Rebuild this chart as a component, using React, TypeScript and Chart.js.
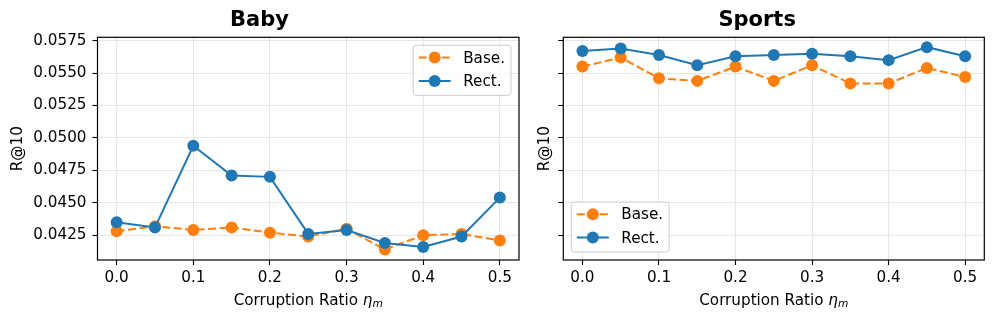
import React, { useEffect, useRef } from "react";
import { Chart, registerables } from "chart.js";

Chart.register(...registerables);

// ---- data ----
const ratios = [0.0, 0.05, 0.1, 0.15, 0.2, 0.25, 0.3, 0.35, 0.4, 0.45, 0.5];
const babyBase = [0.0428, 0.0432, 0.0429, 0.0431, 0.0427, 0.0424, 0.0430, 0.0414, 0.0425, 0.0426, 0.0421];
const babyRect = [0.0435, 0.0431, 0.0494, 0.0471, 0.0470, 0.0426, 0.0429, 0.0419, 0.0416, 0.0424, 0.0454];
const sportsBase = [0.0555, 0.0562, 0.0546, 0.0544, 0.0555, 0.0544, 0.0556, 0.0542, 0.0542, 0.0554, 0.0547];
const sportsRect = [0.0567, 0.0569, 0.0564, 0.0556, 0.0563, 0.0564, 0.0565, 0.0563, 0.0560, 0.0570, 0.0563];
const xTickValues = [0.0, 0.1, 0.2, 0.3, 0.4, 0.5];
const yTickValues = [0.0425, 0.045, 0.0475, 0.05, 0.0525, 0.055, 0.0575];
const seriesLabels = ["Base.", "Rect."];
const panelTitles = ["Baby", "Sports"];
const xAxisTitleParts = ["Corruption Ratio ", "η", "m"];
const yAxisTitle = "R@10";

const ORANGE = "#ff7f0e";
const BLUE = "#1f77b4";
const FONT = "'DejaVu Sans', 'Liberation Sans', sans-serif";
const FS = 15.2;

const framePlugin = {
  id: "frameBox",
  afterDraw(chart: any) {
    const { ctx, chartArea: a } = chart;
    ctx.save();
    ctx.strokeStyle = "#000";
    ctx.lineWidth = 1.2;
    ctx.strokeRect(a.left, a.top, a.right - a.left, a.bottom - a.top);
    ctx.restore();
  },
};

// x-axis title with italic eta and subscript m (matplotlib mathtext style)
const xTitlePlugin = {
  id: "xTitleMath",
  afterDraw(chart: any) {
    const { ctx, chartArea: a } = chart;
    const [main, sym, sub] = xAxisTitleParts;
    ctx.save();
    ctx.fillStyle = "#000";
    ctx.textBaseline = "alphabetic";
    ctx.textAlign = "left";
    const fMain = `${FS}px ${FONT}`;
    const fSym = `italic ${FS}px ${FONT}`;
    const fSub = `italic ${FS * 0.7}px ${FONT}`;
    ctx.font = fMain;
    const w1 = ctx.measureText(main).width;
    ctx.font = fSym;
    const w2 = ctx.measureText(sym).width;
    ctx.font = fSub;
    const w3 = ctx.measureText(sub).width;
    const total = w1 + w2 + w3;
    const cx = (a.left + a.right) / 2;
    const base = 304.5;
    let x = cx - total / 2;
    ctx.font = fMain;
    ctx.fillText(main, x, base);
    x += w1;
    ctx.font = fSym;
    ctx.fillText(sym, x, base);
    x += w2;
    ctx.font = fSub;
    ctx.fillText(sub, x, base + 2.8);
    ctx.restore();
  },
};

const legendPlugin = {
  id: "mplLegend",
  afterDraw(chart: any, _args: any, opts: any) {
    const { ctx, chartArea: a } = chart;
    const ds = chart.data.datasets;
    ctx.save();
    ctx.font = `${FS}px ${FONT}`;
    const padL = 5.5, handle = 32, gap = 12.5, padR = 6;
    let tw = 0;
    ds.forEach((d: any) => (tw = Math.max(tw, ctx.measureText(d.label).width)));
    const w = padL + handle + gap + tw + padR;
    const h = 50;
    const x = opts.corner === "tr" ? a.right - 8 - w : a.left + 8;
    const y = opts.corner === "tr" ? a.top + 8 : a.bottom - 8 - h;
    const r = 3;
    ctx.beginPath();
    ctx.moveTo(x + r, y);
    ctx.lineTo(x + w - r, y);
    ctx.quadraticCurveTo(x + w, y, x + w, y + r);
    ctx.lineTo(x + w, y + h - r);
    ctx.quadraticCurveTo(x + w, y + h, x + w - r, y + h);
    ctx.lineTo(x + r, y + h);
    ctx.quadraticCurveTo(x, y + h, x, y + h - r);
    ctx.lineTo(x, y + r);
    ctx.quadraticCurveTo(x, y, x + r, y);
    ctx.closePath();
    ctx.fillStyle = "rgba(255,255,255,0.8)";
    ctx.fill();
    ctx.strokeStyle = "#cccccc";
    ctx.lineWidth = 1;
    ctx.stroke();
    ds.forEach((d: any, i: number) => {
      const cy = y + 12.3 + i * 23.3;
      const x0 = x + padL;
      ctx.strokeStyle = d.borderColor;
      ctx.lineWidth = d.borderWidth;
      ctx.setLineDash(d.borderDash || []);
      ctx.beginPath();
      ctx.moveTo(x0, cy);
      ctx.lineTo(x0 + handle, cy);
      ctx.stroke();
      ctx.setLineDash([]);
      ctx.fillStyle = d.borderColor;
      ctx.beginPath();
      ctx.arc(x0 + handle / 2, cy, d.pointRadius, 0, Math.PI * 2);
      ctx.fill();
      ctx.fillStyle = "#000";
      ctx.textBaseline = "middle";
      ctx.textAlign = "left";
      ctx.fillText(d.label, x0 + handle + gap, cy + 1);
    });
    ctx.restore();
  },
};

function makeConfig(
  title: string,
  base: number[],
  rect: number[],
  showYLabels: boolean,
  yWidth: number,
  rightPad: number,
  yTitlePad: number,
  corner: string
): any {
  const line = (label: string, vals: number[], color: string, dash: number[], order: number) => ({
    label,
    data: ratios.map((r, i) => ({ x: r, y: vals[i] })),
    borderColor: color,
    backgroundColor: color,
    pointBackgroundColor: color,
    pointBorderColor: color,
    pointBorderWidth: 0,
    pointRadius: 6,
    borderWidth: 2,
    borderDash: dash,
    fill: false,
    tension: 0,
    order,
  });
  return {
    type: "line",
    data: {
      datasets: [
        line(seriesLabels[0], base, ORANGE, [8, 3.5], 1),
        line(seriesLabels[1], rect, BLUE, [], 0),
      ],
    },
    options: {
      animation: false,
      responsive: false,
      maintainAspectRatio: false,
      devicePixelRatio: 1,
      events: [],
      layout: { padding: { left: 0, right: rightPad, top: 0, bottom: 0 } },
      plugins: {
        legend: { display: false },
        tooltip: { enabled: false },
        title: {
          display: true,
          text: title,
          color: "#000",
          font: { family: FONT, size: 21, weight: "bold", lineHeight: 1.2 },
          padding: { top: 8, bottom: 4.1 },
        },
        mplLegend: { corner },
      },
      scales: {
        x: {
          type: "linear",
          min: -0.025,
          max: 0.525,
          afterBuildTicks: (s: any) => {
            s.ticks = xTickValues.map((v) => ({ value: v }));
          },
          afterFit: (s: any) => {
            s.height = 61;
          },
          ticks: {
            color: "#000",
            font: { family: FONT, size: FS },
            padding: 4,
            maxRotation: 0,
            callback: (v: any) => Number(v).toFixed(1),
          },
          grid: {
            color: "#e6e6e6",
            lineWidth: 1,
            drawTicks: true,
            tickLength: 5,
            tickColor: "#000",
            tickWidth: 1.1,
          },
          border: { display: false },
          title: { display: false },
        },
        y: {
          type: "linear",
          min: 0.04059,
          max: 0.05776,
          afterBuildTicks: (s: any) => {
            s.ticks = yTickValues.map((v) => ({ value: v }));
          },
          afterFit: (s: any) => {
            s.width = yWidth;
          },
          ticks: {
            display: showYLabels,
            color: "#000",
            font: { family: FONT, size: FS },
            padding: 6,
            callback: (v: any) => Number(v).toFixed(4),
          },
          grid: {
            color: "#e6e6e6",
            lineWidth: 1,
            drawTicks: true,
            tickLength: 5,
            tickColor: "#000",
            tickWidth: 1.1,
          },
          border: { display: false },
          title: {
            display: true,
            text: yAxisTitle,
            color: "#000",
            font: { family: FONT, size: FS },
            padding: { top: yTitlePad, bottom: 0 },
          },
        },
      },
    },
    plugins: [framePlugin, xTitlePlugin, legendPlugin],
  };
}

function Panel(props: { left: number; width: number; config: any }) {
  const ref = useRef<HTMLCanvasElement | null>(null);
  useEffect(() => {
    if (!ref.current) return;
    const chart = new Chart(ref.current, props.config);
    return () => chart.destroy();
  }, []);
  return (
    <canvas
      ref={ref}
      width={props.width}
      height={321}
      style={{ position: "absolute", left: props.left, top: 0, width: props.width, height: 321 }}
    />
  );
}

export default function App() {
  const leftCfg = makeConfig(panelTitles[0], babyBase, babyRect, true, 97.5, 11, 9.0, "tr");
  const rightCfg = makeConfig(panelTitles[1], sportsBase, sportsRect, false, 33.3, 11.7, 5.6, "bl");
  return (
    <div style={{ position: "fixed", left: 0, top: 0, width: 996, height: 321, background: "#fff" }}>
      <Panel left={0} width={530} config={leftCfg} />
      <Panel left={530} width={466} config={rightCfg} />
    </div>
  );
}
